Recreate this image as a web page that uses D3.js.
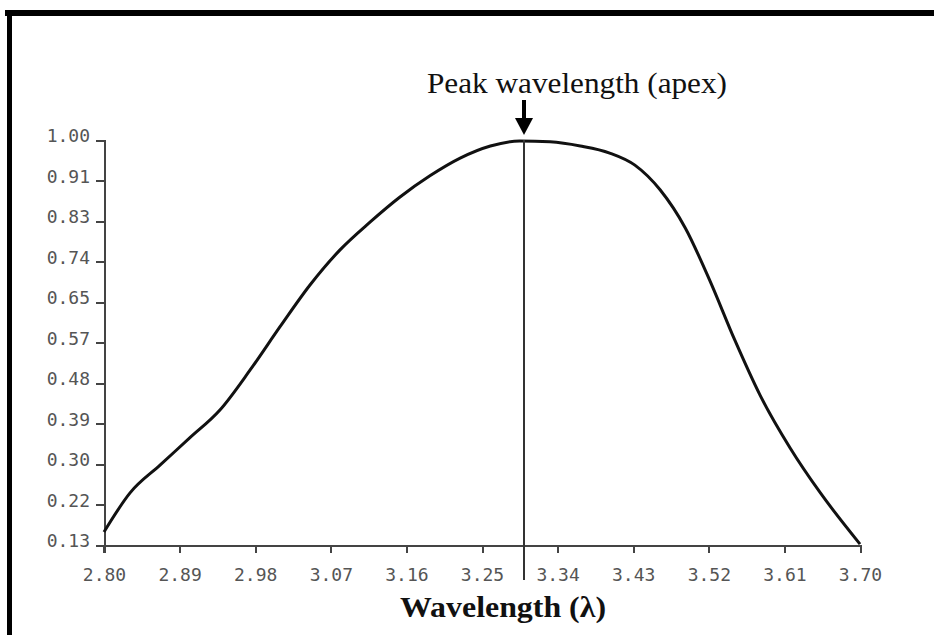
<!DOCTYPE html>
<html lang="en">
<head>
    <meta charset="UTF-8">
    <title>Peak wavelength</title>
    <script src="https://d3js.org/d3.v7.min.js"></script>
    <style>
        body { margin: 0; background: #fff; }
        .axis path,
        .axis line {
            fill: none;
            stroke: #444;
            stroke-width: 2;
            shape-rendering: crispEdges;
        }
        .axis text {
            font-family: "DejaVu Sans Mono", monospace;
            font-size: 18px;
            fill: #555;
        }
    </style>
</head>
<body>
    <svg id="chart" width="934" height="635"></svg>
    <script>
        // wavelength samples and relative intensity
        const wavelength = [2.800, 2.831, 2.867, 2.902, 2.938, 2.974, 3.010, 3.045, 3.081, 3.117, 3.152, 3.188, 3.224,
                            3.260, 3.295, 3.331, 3.367, 3.402, 3.432, 3.462, 3.492, 3.521, 3.551, 3.581, 3.617, 3.652, 3.700];
        const intensity = [0.158, 0.242, 0.302, 0.360, 0.420, 0.506, 0.600, 0.688, 0.764, 0.824, 0.877, 0.923, 0.961,
                           0.987, 0.998, 0.996, 0.987, 0.972, 0.946, 0.893, 0.811, 0.699, 0.570, 0.452, 0.338, 0.244, 0.132];

        const xTicks = [2.80, 2.89, 2.98, 3.07, 3.16, 3.25, 3.34, 3.43, 3.52, 3.61, 3.70];
        const xTickLabels = ["2.80", "2.89", "2.98", "3.07", "3.16", "3.25", "3.34", "3.43", "3.52", "3.61", "3.70"];
        const yTicks = [0.13, 0.217, 0.304, 0.391, 0.478, 0.565, 0.652, 0.739, 0.826, 0.913, 1.00];
        const yTickLabels = ["0.13", "0.22", "0.30", "0.39", "0.48", "0.57", "0.65", "0.74", "0.83", "0.91", "1.00"];

        const peakWavelength = 3.30;

        const margin = {top: 140, right: 74, bottom: 90, left: 104},
            width = 934 - margin.left - margin.right,
            height = 635 - margin.top - margin.bottom;

        const svg = d3.select("#chart");

        // frame (top and left edges only, as in the scan)
        svg.append("rect").attr("x", 5).attr("y", 10).attr("width", 929).attr("height", 6).attr("fill", "#000");
        svg.append("rect").attr("x", 7).attr("y", 10).attr("width", 5).attr("height", 625).attr("fill", "#000");

        const g = svg.append("g")
            .attr("transform", "translate(" + margin.left + "," + margin.top + ")");

        const x = d3.scaleLinear().domain([2.80, 3.70]).range([0, width]);
        const y = d3.scaleLinear().domain([0.13, 1.00]).range([height, 0]);

        const xAxis = d3.axisBottom(x)
            .tickValues(xTicks)
            .tickFormat((d, i) => xTickLabels[i])
            .tickSizeOuter(0)
            .tickSize(8)
            .tickPadding(15);

        const yAxis = d3.axisLeft(y)
            .tickValues(yTicks)
            .tickFormat((d, i) => yTickLabels[i])
            .tickSizeOuter(0)
            .tickSize(8)
            .tickPadding(6);

        g.append("g")
            .attr("class", "x axis")
            .attr("transform", "translate(0," + height + ")")
            .call(xAxis);

        g.append("g")
            .attr("class", "y axis")
            .call(yAxis)
            .selectAll("text")
            .attr("dy", "0.1em");

        // extend y axis slightly below the x axis
        g.append("line")
            .attr("x1", 0).attr("x2", 0)
            .attr("y1", height).attr("y2", height + 8)
            .attr("stroke", "#444").attr("stroke-width", 2);

        const points = wavelength.map((w, i) => [w, intensity[i]]);

        const line = d3.line()
            .x(d => x(d[0]))
            .y(d => y(d[1]))
            .curve(d3.curveMonotoneX);

        g.append("path")
            .datum(points)
            .attr("fill", "none")
            .attr("stroke", "#111")
            .attr("stroke-width", 3)
            .attr("d", line);

        // peak marker line
        g.append("line")
            .attr("x1", x(peakWavelength)).attr("x2", x(peakWavelength))
            .attr("y1", y(1.00)).attr("y2", height + 35)
            .attr("stroke", "#333")
            .attr("stroke-width", 2);

        // arrow pointing at the apex
        const ax = x(peakWavelength);
        g.append("rect")
            .attr("x", ax - 2).attr("y", -40)
            .attr("width", 4).attr("height", 22)
            .attr("fill", "#000");
        g.append("path")
            .attr("d", d3.line()([[ax - 9, -22], [ax + 9, -22], [ax, -5]]) + "Z")
            .attr("fill", "#000");

        svg.append("text")
            .attr("x", 577)
            .attr("y", 93)
            .attr("text-anchor", "middle")
            .attr("textLength", 300)
            .attr("lengthAdjust", "spacingAndGlyphs")
            .style("font-family", "'Liberation Serif', 'Times New Roman', serif")
            .style("font-size", "29px")
            .attr("fill", "#111")
            .text("Peak wavelength (apex)");

        svg.append("text")
            .attr("x", 503)
            .attr("y", 617)
            .attr("text-anchor", "middle")
            .attr("textLength", 206)
            .attr("lengthAdjust", "spacingAndGlyphs")
            .style("font-family", "'Liberation Serif', 'Times New Roman', serif")
            .style("font-size", "30px")
            .style("font-weight", "bold")
            .attr("fill", "#111")
            .text("Wavelength (λ)");
    </script>
</body>
</html>
